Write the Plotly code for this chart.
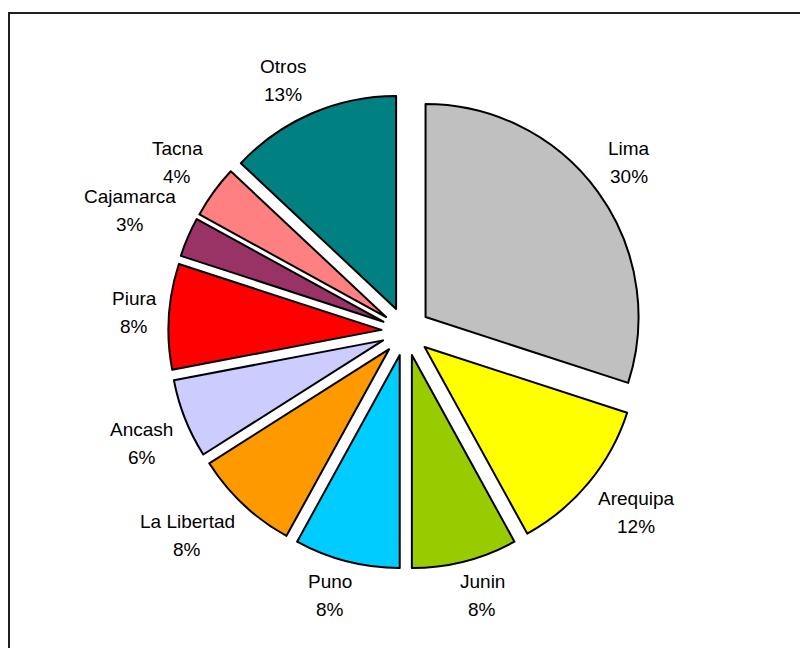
import math
import plotly.graph_objects as go

# Regional shares (percent), listed clockwise from 12 o'clock
regions = ["Lima", "Arequipa", "Junin", "Puno", "La Libertad",
           "Ancash", "Piura", "Cajamarca", "Tacna", "Otros"]
shares = [30, 12, 8, 8, 8, 6, 8, 3, 4, 13]
slice_colors = ["#C0C0C0", "#FFFF00", "#99CC00", "#00CCFF", "#FF9900",
                "#CCCCFF", "#FF0000", "#993366", "#FF8080", "#008080"]

W, H = 800, 648
CX, CY = 405.8, 331.4          # pie centre in pixels
HALF_BOX = 237.4               # half side of the pie domain in pixels
PULL = 0.1146                  # explosion, as a fraction of the radius
FS = 19                        # label font size
LABEL_R = 250                  # distance from centre to the label anchor
LINE_GAP = 28                  # pitch between the two label lines
BLOCK_H = 43                   # height of a two-line label block

# Approximate Arial advance widths (em) used to size the labels
_ADV = {"L": .556, "i": .222, "m": .833, "a": .556, "A": .667, "r": .333,
        "e": .556, "q": .556, "u": .556, "p": .556, "J": .5, "n": .556,
        "P": .667, "o": .556, " ": .278, "b": .556, "t": .278, "d": .556,
        "c": .5, "s": .5, "h": .556, "C": .722, "j": .222, "T": .611,
        "O": .778, "%": .889}


def text_width(s):
    return FS * sum(_ADV.get(ch, .556) for ch in s)


def clip(v):
    return max(-1.0, min(1.0, v))


fig = go.Figure(go.Pie(
    labels=regions,
    values=shares,
    sort=False,
    direction="clockwise",
    rotation=0,
    pull=[PULL] * len(shares),
    marker=dict(colors=slice_colors, line=dict(color="#000000", width=2)),
    textinfo="none",
    hoverinfo="label+percent",
    showlegend=False,
    domain=dict(x=[(CX - HALF_BOX) / W, (CX + HALF_BOX) / W],
                y=[1 - (CY + HALF_BOX) / H, 1 - (CY - HALF_BOX) / H]),
))

# Outside labels: name and percentage, placed along each slice's mid angle
total = sum(shares)
cum = 0.0
annotations = []
for name, val in zip(regions, shares):
    mid = (cum + val / 2) / total * 2 * math.pi
    cum += val
    pct = f"{round(val / total * 100)}%"
    sx, sy = math.sin(mid), -math.cos(mid)
    w = max(text_width(name), text_width(pct))
    lx = CX + LABEL_R * sx + clip(2.5 * sx) * w / 2
    ly = CY + LABEL_R * sy + clip(2.5 * sy) * BLOCK_H / 2
    for txt, dy in ((name, -LINE_GAP / 2), (pct, LINE_GAP / 2)):
        annotations.append(dict(
            x=lx / W, y=1 - (ly + dy) / H, xref="paper", yref="paper",
            text=txt, showarrow=False, xanchor="center", yanchor="middle",
            font=dict(family="Liberation Sans, Arial, sans-serif", size=FS,
                      color="#000000"),
        ))

fig.update_layout(
    width=W, height=H,
    margin=dict(l=0, r=0, t=0, b=0),
    paper_bgcolor="#FFFFFF",
    plot_bgcolor="#FFFFFF",
    annotations=annotations,
    shapes=[dict(type="rect", xref="paper", yref="paper",
                 x0=9 / W, x1=1.05, y0=-0.05, y1=1 - 13 / H,
                 line=dict(color="#202020", width=2))],
)

fig.write_html("out.html")
